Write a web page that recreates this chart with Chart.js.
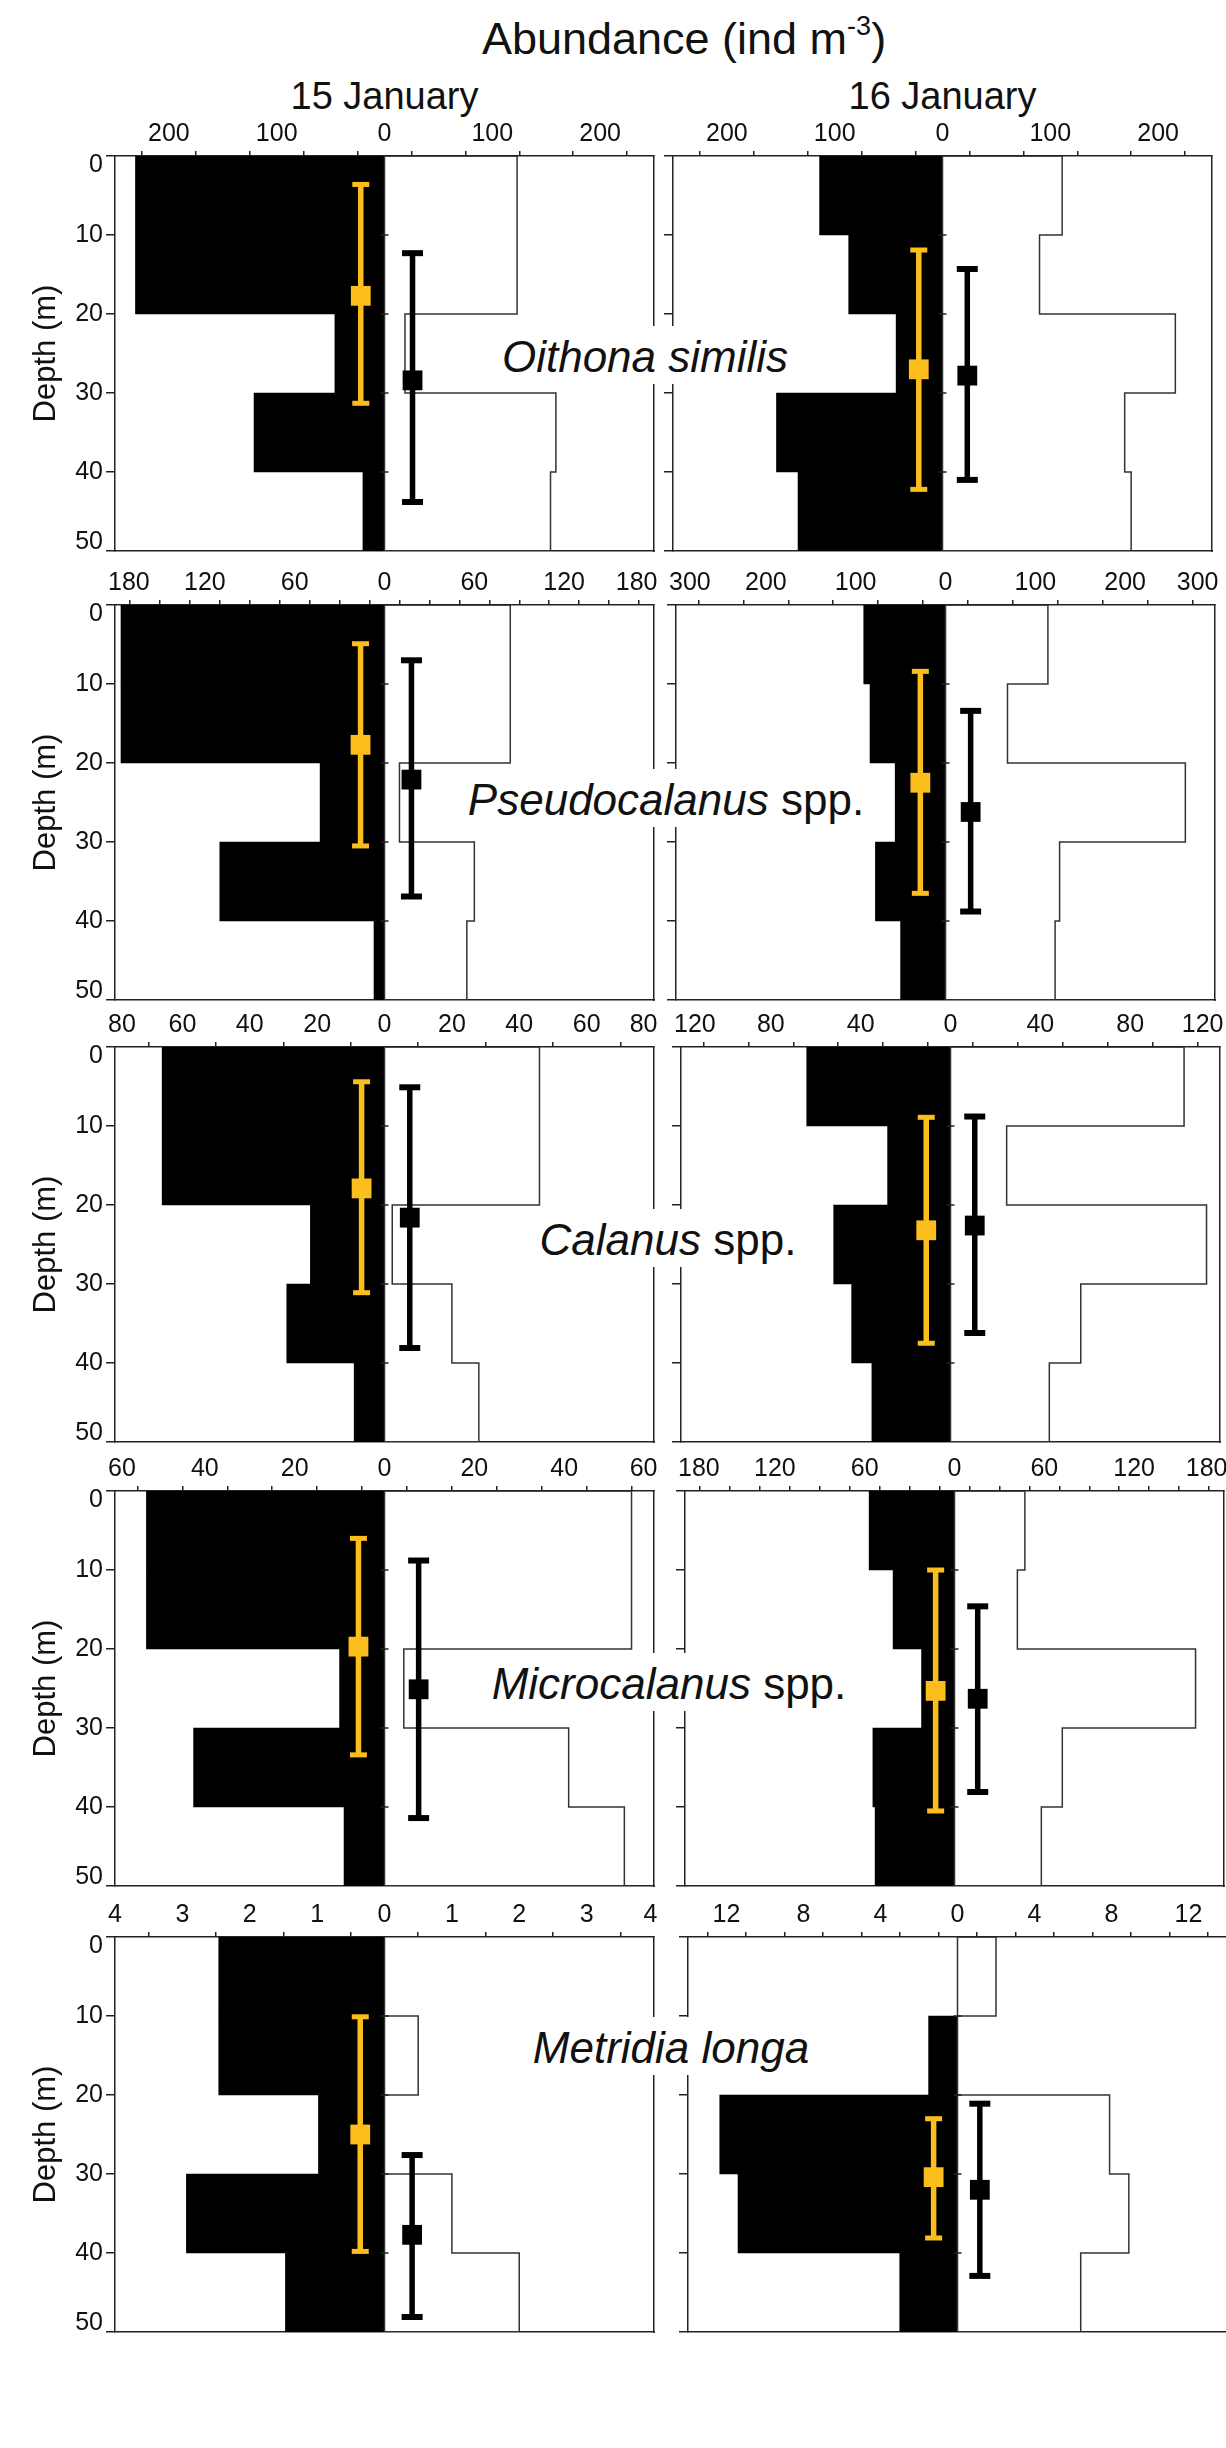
<!DOCTYPE html>
<html>
<head>
<meta charset="utf-8">
<script src="https://cdn.jsdelivr.net/npm/chart.js@4.4.1/dist/chart.umd.min.js"></script>
<style>
  html, body { margin: 0; padding: 0; background: #fff; }
  #page { position: relative; width: 1226px; height: 2448px; overflow: hidden;
          font-family: "Liberation Sans", Arial, Helvetica, sans-serif; color: #111; }
  #page canvas { position: absolute; }
  .txt { position: absolute; white-space: nowrap; line-height: 1.2; transform: translateX(-50%); }
  .sup { position: relative; top: -0.72em; font-size: 0.6em; }
  .species { background: #fff; padding: 6px 8px 2px; z-index: 5; font-size: 44px; line-height: 50px; }
</style>
</head>
<body>
<div id="page"></div>
<script>
// ===== data =====
const depthEdges = [0, 10, 20, 30, 40, 50];
const speciesNames = ['Oithona similis', 'Pseudocalanus', 'Calanus', 'Microcalanus', 'Metridia longa'];
const speciesSuffix = ['', ' spp.', ' spp.', ' spp.', ''];
const dayLabels = ['15 January', '16 January'];

// panels row by row (species), 15 Jan then 16 Jan
// abundance (ind m-3) per 10 m layer: 0-10, 10-20, 20-30, 30-40, 40-50 m
const filledProfiles = [
  [231, 231, 46, 121, 20],        [114, 87, 43, 154, 134],
  [176, 176, 43, 110, 7],         [91, 84, 56, 78, 50],
  [66, 66, 22, 29, 9],            [64, 28, 52, 44, 35],
  [53, 53, 10, 42.5, 9],          [57, 41, 22, 54.5, 53],
  [2.46, 2.46, 0.98, 2.94, 1.47], [0, 1.5, 12.35, 11.4, 3.0]
];
const openProfiles = [
  [123, 123, 19, 159, 154],       [111, 90, 216, 169, 175],
  [84, 84, 10, 60, 55],           [114, 69, 267, 127, 122],
  [46, 46, 2.3, 20, 28],          [104, 25, 114, 58, 44],
  [55, 55, 4.3, 41, 53.4],        [47, 42, 161, 72, 58],
  [0, 0.5, 0, 1.0, 2.0],          [2.0, 0, 7.9, 8.9, 6.4]
];
// mean depth and spread (m): [mean, upper, lower]
const filledMeanDepth = [
  [17.7, 3.6, 31.3],  [27.0, 11.9, 42.2],
  [17.7, 4.9, 30.5],  [22.5, 8.4, 36.5],
  [17.9, 4.4, 31.1],  [23.2, 8.9, 37.5],
  [19.7, 6.0, 33.4],  [25.3, 10.0, 40.5],
  [25.0, 10.1, 39.8], [30.4, 23.0, 38.1]
];
const openMeanDepth = [
  [28.4, 12.3, 43.8], [27.8, 14.3, 41.0],
  [22.1, 7.0, 36.9],  [26.2, 13.4, 38.8],
  [21.6, 5.1, 38.1],  [22.6, 8.8, 36.2],
  [25.1, 8.8, 41.4],  [26.3, 14.6, 38.1],
  [37.7, 27.6, 48.1], [32.0, 21.1, 42.9]
];
// where the mean-depth markers sit on the abundance axis
const filledMarkerX = [-22, -22, -16, -28, -6.8, -10.8, -5.8, -12.6, -0.36, -1.24];
const openMarkerX = [26, 23, 18, 28, 7.5, 10.8, 7.6, 15.5, 0.41, 1.16];

// abundance axes
const axisMax   = [250, 250, 180, 300, 80, 120, 60, 180, 4, 14];
const tickStep  = [50, 50, 20, 50, 20, 20, 10, 20, 1, 2];
const labelStep = [100, 100, 60, 100, 20, 40, 20, 60, 1, 4];

// ===== layout (px) =====
const rowTop = [156, 605, 1047, 1491, 1937];
const colLeft = [[115, 115, 115, 115, 115], [673, 676, 681, 685, 688]];
const panelW = 539, panelH = 395;
const LEFT_W = [115, 45], TOP_H = 40, PAD_T = 10, PAD_B = 25, PAD_R = 45;
const speciesCx = [645, 666, 668, 669, 671];
const speciesBase = [372, 815, 1255, 1699, 2063];

const YELLOW = '#fbbe1c';
const INK = '#222';

Chart.defaults.font.family = '"Liberation Sans", Arial, Helvetica, sans-serif';
Chart.defaults.color = '#111';

const page = document.getElementById('page');

function addText(html, cx, baseline, size, cls) {
  const d = document.createElement('div');
  d.className = 'txt' + (cls ? ' ' + cls : '');
  d.style.fontSize = size + 'px';
  d.innerHTML = html;
  d.style.left = cx + 'px';
  d.style.top = (baseline - 0.9465 * size) + 'px';
  page.appendChild(d);
  return d;
}

addText('Abundance (ind m<span class="sup">-3</span>)', 684, 55, 45);
addText(dayLabels[0], colLeft[0][0] + panelW / 2, 110, 38);
addText(dayLabels[1], colLeft[1][0] + panelW / 2, 110, 38);

function renderPanel(i) {
  const row = Math.floor(i / 2), col = i % 2;
  const max = axisMax[i];
  const maxDepth = depthEdges[depthEdges.length - 1];

  const filledBars = filledProfiles[i].map((v, k) => ({
    y: (depthEdges[k] + depthEdges[k + 1]) / 2, x: [-v, 0]
  }));
  // outline of the open profile, closed along the zero line
  const outline = [{ x: 0, y: maxDepth }, { x: 0, y: 0 }];
  openProfiles[i].forEach((v, k) => {
    outline.push({ x: v, y: depthEdges[k] }, { x: v, y: depthEdges[k + 1] });
  });
  outline.push({ x: 0, y: maxDepth });

  const zeroTicks = depthEdges.slice(1, -1).map(d => ({ x: 0, y: d }));

  const errBar = (xv, stats, color, capR, capW, order) => [
    {
      type: 'line', data: [{ x: xv, y: stats[1] }, { x: xv, y: stats[2] }],
      borderColor: color, borderWidth: 5.5, borderCapStyle: 'butt',
      pointStyle: 'line', pointRadius: capR, pointBorderWidth: capW,
      pointBorderColor: color, order: order + 1, xAxisID: 'x', yAxisID: 'y'
    },
    {
      type: 'line', data: [{ x: xv, y: stats[0] }], showLine: false,
      pointStyle: 'rect', pointRadius: 14, pointBackgroundColor: color,
      pointBorderWidth: 0, order: order, xAxisID: 'x', yAxisID: 'y'
    }
  ];

  const w = LEFT_W[col] + panelW + PAD_R;
  const h = PAD_T + TOP_H + panelH + PAD_B;
  const cv = document.createElement('canvas');
  cv.width = w; cv.height = h;
  cv.style.width = w + 'px'; cv.style.height = h + 'px';
  cv.style.left = (colLeft[col][row] - LEFT_W[col]) + 'px';
  cv.style.top = (rowTop[row] - TOP_H - PAD_T) + 'px';
  page.appendChild(cv);

  const borderOpts = { display: true, color: INK, width: 1.5 };

  new Chart(cv, {
    type: 'bar',
    data: {
      datasets: [
        {
          type: 'bar', indexAxis: 'y', data: filledBars, backgroundColor: '#000',
          borderWidth: 0, barPercentage: 1, categoryPercentage: 1, order: 9,
          xAxisID: 'x', yAxisID: 'y'
        },
        {
          type: 'line', data: outline, borderColor: '#333', borderWidth: 1.5,
          borderJoinStyle: 'miter', pointRadius: 0, fill: false, order: 8,
          xAxisID: 'x', yAxisID: 'y'
        },
        {
          type: 'line', data: zeroTicks, showLine: false, pointStyle: 'line',
          pointRadius: 4, pointBorderWidth: 1.5, pointBorderColor: INK, order: 7,
          xAxisID: 'x', yAxisID: 'y'
        },
        ...errBar(openMarkerX[i], openMeanDepth[i], '#000', 10.5, 6, 3),
        ...errBar(filledMarkerX[i], filledMeanDepth[i], YELLOW, 8.5, 5, 1)
      ]
    },
    options: {
      responsive: false,
      devicePixelRatio: 1,
      animation: false,
      events: [],
      layout: { padding: { top: PAD_T, left: 0, right: PAD_R, bottom: PAD_B } },
      plugins: { legend: { display: false }, tooltip: { enabled: false } },
      scales: {
        x: {
          type: 'linear', position: 'top', min: -max, max: max, offset: false,
          ticks: {
            stepSize: tickStep[i], autoSkip: false, maxRotation: 0, minRotation: 0,
            padding: 2, color: '#111', font: { size: 25 },
            callback: (v, idx, ticks) => {
              const n = Math.abs(Math.round(v));
              if (n % labelStep[i] !== 0) return '';
              const s = String(n);
              // keep the edge labels inside the frame, as in the original
              if (idx === 0) return ' '.repeat(Math.max(0, Math.round(2 * s.length - 2.3))) + s;
              if (idx === ticks.length - 1) return s + ' '.repeat(Math.round(2 * s.length - 0.6));
              return s;
            }
          },
          grid: { drawOnChartArea: false, drawTicks: true, tickLength: 5, color: INK, lineWidth: 1.5 },
          border: borderOpts,
          afterFit: s => { s.height = TOP_H; }
        },
        xb: {
          axis: 'x', type: 'linear', position: 'bottom', min: 0, max: 1,
          ticks: { display: false },
          grid: { drawOnChartArea: false, drawTicks: false },
          border: borderOpts
        },
        y: {
          type: 'linear', position: 'left', reverse: true, min: 0, max: maxDepth, offset: false,
          ticks: {
            stepSize: 10, autoSkip: false, padding: 3, color: '#111',
            font: { size: 25, lineHeight: 0.72 },
            callback: (v) => {
              if (col === 1) return '';
              // first/last labels nudged inside the frame
              if (v === 0) return ['', String(v)];
              if (v === maxDepth) return [String(v), ''];
              return String(v);
            }
          },
          grid: { drawOnChartArea: false, tickLength: 9, color: INK, lineWidth: 1.5, offset: false },
          border: borderOpts,
          title: col === 0
            ? { display: true, text: 'Depth (m)', color: '#111', font: { size: 31 }, padding: { top: 28, bottom: 0 } }
            : { display: false },
          afterFit: s => { s.width = LEFT_W[col]; }
        },
        yr: {
          axis: 'y', type: 'linear', position: 'right', min: 0, max: 1,
          ticks: { display: false },
          grid: { drawOnChartArea: false, drawTicks: false },
          border: borderOpts
        }
      }
    }
  });
}

for (let i = 0; i < axisMax.length; i++) renderPanel(i);

// species names sit between the two days, over the frames
speciesNames.forEach((name, r) => {
  const d = document.createElement('div');
  d.className = 'txt species';
  d.innerHTML = '<i>' + name + '</i>' + speciesSuffix[r];
  d.style.left = speciesCx[r] + 'px';
  d.style.top = (speciesBase[r] - 40 - 6) + 'px';
  page.appendChild(d);
});
</script>
</body>
</html>
